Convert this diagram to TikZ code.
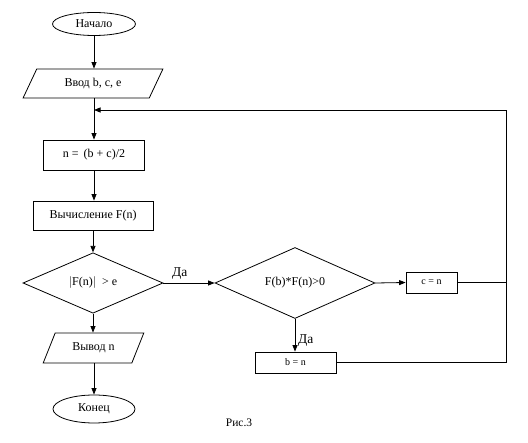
\documentclass[tikz,border=0pt]{standalone}
\usepackage{fontspec}
\setmainfont{Liberation Serif}
\usetikzlibrary{shapes.geometric,arrows.meta}
\begin{document}
\begin{tikzpicture}[x=1pt,y=-1pt,
  every node/.style={font=\fontsize{12}{14}\selectfont, inner sep=0pt},
  base/.style={draw, line width=0.8pt},
  term/.style={base, ellipse},
  io/.style={base, trapezium, trapezium stretches=true, trapezium left angle=57, trapezium right angle=123},
  proc/.style={base, rectangle},
  dec/.style={base, diamond},
  small/.style={font=\fontsize{10}{12}\selectfont},
  line/.style={line width=0.8pt},
  arr/.style={line, -{Triangle[length=6.5pt,width=5pt]}},
  lbl/.style={font=\fontsize{13.5}{15}\selectfont}
]
\fill[white] (0,0) rectangle (528,443);
\useasboundingbox (0,0) rectangle (528,443);

\node[term, minimum width=83pt, minimum height=23pt] (start) at (94,24) {Начало};
\node[io, minimum width=140pt, minimum height=29pt] (input) at (93,83.5) {Ввод b, c, e};
\coordinate (join) at (94,110);
\node[proc, minimum width=101pt, minimum height=30pt] (calc) at (94,155) {n =\, (b + c)/2};
\node[proc, minimum width=120pt, minimum height=29pt] (eval) at (93,215.5) {Вычисление F(n)};
\node[dec, minimum width=140pt, minimum height=40pt] (c1) at (93,283) {$|$F(n)$|$\ \ > e};
\node[io, minimum width=101pt, minimum height=30pt] (out) at (93.5,348) {Вывод n};
\node[term, minimum width=82pt, minimum height=28pt] (end) at (94,409) {Конец};

\node[dec, minimum width=160pt, minimum height=40pt] (c2) at (295,283) {F(b)*F(n)>0};
\node[proc, small, minimum width=51pt, minimum height=21pt] (cn) at (431.5,282.5) {c = n};
\node[proc, small, minimum width=81pt, minimum height=21pt] (bn) at (295.5,362.5) {b = n};

\coordinate (r1) at (506,282.5);
\coordinate (r2) at (506,362.5);
\coordinate (r3) at (506,110);

\draw[arr] (start.south) -- (input.north -| start.south);
\draw[line] (input.south -| join) -- (join);
\draw[arr] (join) -- (calc.north);
\draw[arr] (calc.south) -- (calc.south |- eval.north);
\draw[arr] (eval.south -| c1.north) -- (c1.north);
\draw[arr] (c1.south) -- (c1.south |- out.north);
\draw[arr] (out.south -| end.north) -- (end.north);

\draw[arr] (c1.east) -- (c2.west);
\node[lbl, anchor=south west] (yes1) at (172,280) {Да};
\draw[arr] (c2.east) -- (cn.west);
\draw[arr] (c2.south) -- (c2.south |- bn.north);
\node[lbl, anchor=south west] (yes2) at (298,347) {Да};

\draw[line] (cn.east) -- (r1);
\draw[line] (bn.east) -- (r2) -- (r3);
\draw[arr] (r3) -- (join);

\node[font=\fontsize{11.5}{13}\selectfont] (cap) at (239,423) {Рис.3};
\end{tikzpicture}
\end{document}
